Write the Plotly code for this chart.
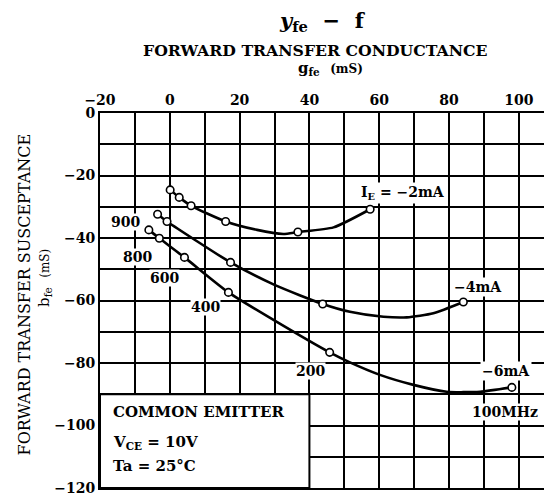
import plotly.graph_objects as go

# ---- data (gfe, bfe in mS) ----
# marker points (frequencies from 900 MHz downwards)
ie2_g = [0.1, 2.7, 6.1, 16.0, 36.7, 57.4]
ie2_b = [-24.6, -27.0, -29.7, -34.7, -38.1, -30.8]
ie4_g = [-3.5, -0.8, 17.4, 43.8, 84.1]
ie4_b = [-32.4, -34.7, -47.8, -61.1, -60.5]
ie6_g = [-6.0, -3.0, 4.2, 16.8, 45.8, 98.0]
ie6_b = [-37.4, -40.1, -46.2, -57.4, -76.6, -87.8]

# curve traces
c2_g = [0.1, 2.7, 6.1, 16.0, 25.0, 32.5, 36.7, 46.9, 57.4]
c2_b = [-24.6, -27.0, -29.7, -34.7, -37.4, -38.7, -38.1, -36.6, -30.8]
c4_g = [-3.5, -0.8, 17.4, 30.0, 43.8, 51.6, 61.2, 67.9, 75.5, 84.1]
c4_b = [-32.4, -34.7, -47.8, -55.0, -61.1, -63.6, -65.2, -65.4, -64.1, -60.5]
c6_g = [-6.0, -3.0, 4.2, 16.8, 29.7, 45.8, 51.6, 60.2, 69.8, 79.3, 88.9, 98.0]
c6_b = [-37.4, -40.1, -46.2, -57.4, -66.2, -76.6, -79.8, -83.8, -87.0, -89.2, -89.2, -87.8]

x_ticks = [-20, 0, 20, 40, 60, 80, 100]
x_labels = ["\u221220", "0", "20", "40", "60", "80", "100"]
y_ticks = [0, -20, -40, -60, -80, -100, -120]
y_labels = ["0", "\u221220", "\u221240", "\u221260", "\u221280", "\u2212100", "\u2212120"]

freq_labels = ["900", "800", "600", "400", "200", "100MHz"]
freq_pos_g = [-12.8, -9.3, -1.4, 10.1, 40.2, 96.0]
freq_pos_b = [-34.9, -46.0, -52.7, -62.0, -82.4, -95.8]

cur_labels = ["I<sub>E</sub> = \u22122mA", "\u22124mA", "\u22126mA"]
cur_pos_g = [66.8, 88.3, 96.3]
cur_pos_b = [-25.5, -55.6, -82.6]

FONT = "DejaVu Serif"

fig = go.Figure()
for cg, cb in [(c2_g, c2_b), (c4_g, c4_b), (c6_g, c6_b)]:
    fig.add_trace(go.Scatter(x=cg, y=cb, mode="lines",
                             line=dict(color="black", width=2.6, shape="spline", smoothing=0.6),
                             hoverinfo="skip", showlegend=False))
for mg, mb in [(ie2_g, ie2_b), (ie4_g, ie4_b), (ie6_g, ie6_b)]:
    fig.add_trace(go.Scatter(x=mg, y=mb, mode="markers",
                             marker=dict(symbol="circle", size=7.5, color="white",
                                         line=dict(color="black", width=1.6)),
                             showlegend=False))

# condition box
fig.add_shape(type="rect", x0=-20, x1=40, y0=-120, y1=-90, xref="x", yref="y",
              fillcolor="white", line=dict(color="black", width=2), layer="above")

box_lines = ["COMMON EMITTER", "V<sub>CE</sub> = 10V", "Ta = 25\u00b0C"]
box_y = [-95.8, -105.4, -113.0]
for t, yy in zip(box_lines, box_y):
    fig.add_annotation(x=-16.8, y=yy, xref="x", yref="y", text=t, showarrow=False,
                       xanchor="left", yanchor="middle",
                       font=dict(family=FONT, size=15, color="black", weight="bold"))

for t, gx, by in zip(freq_labels, freq_pos_g, freq_pos_b):
    fig.add_annotation(x=gx, y=by, xref="x", yref="y", text=t, showarrow=False,
                       xanchor="center", yanchor="middle",
                       bgcolor="white", borderpad=0,
                       font=dict(family=FONT, size=14, color="black", weight="bold"))
for t, gx, by in zip(cur_labels, cur_pos_g, cur_pos_b):
    fig.add_annotation(x=gx, y=by, xref="x", yref="y", text=t, showarrow=False,
                       xanchor="center", yanchor="middle",
                       bgcolor="white", borderpad=1,
                       font=dict(family=FONT, size=14, color="black", weight="bold"))

# titles
fig.add_annotation(x=0.493, y=1.243, xref="paper", yref="paper",
                   xanchor="center", yanchor="middle",
                   text="<b><i>y</i><sub>fe</sub>  \u2212  f</b>", showarrow=False,
                   font=dict(family=FONT, size=21, color="black"))
fig.add_annotation(x=0.476, y=1.168, xref="paper", yref="paper",
                   xanchor="center", yanchor="middle",
                   text="FORWARD TRANSFER CONDUCTANCE", showarrow=False,
                   font=dict(family=FONT, size=15.7, color="black", weight="bold"))
fig.add_annotation(x=0.509, y=1.118, xref="paper", yref="paper",
                   xanchor="center", yanchor="middle",
                   text="g<sub>fe</sub>  <span style='font-size:12px'>(mS)</span>", showarrow=False,
                   font=dict(family=FONT, size=15, color="black", weight="bold"))
fig.add_annotation(x=-0.166, y=0.516, xref="paper", yref="paper",
                   xanchor="center", yanchor="middle",
                   text="FORWARD TRANSFER SUSCEPTANCE", showarrow=False, textangle=-90,
                   font=dict(family=FONT, size=16, color="black"))
fig.add_annotation(x=-0.124, y=0.56, xref="paper", yref="paper",
                   xanchor="center", yanchor="middle",
                   text="b<sub>fe</sub>  <span style='font-size:12px'>(mS)</span>", showarrow=False,
                   textangle=-90,
                   font=dict(family=FONT, size=15, color="black"))

fig.update_xaxes(range=[-20, 109.5], side="top", tickmode="array", tickvals=x_ticks,
                 ticktext=x_labels, showgrid=True, gridcolor="black", gridwidth=1.5,
                 minor=dict(dtick=10, showgrid=True, gridcolor="black", gridwidth=1.5),
                 showline=True, linecolor="black", linewidth=2, mirror=True,
                 zeroline=False, ticks="", automargin=False,
                 tickfont=dict(family=FONT, size=14, color="black", weight="bold"))
fig.update_yaxes(range=[-120, 0], tickmode="array", tickvals=y_ticks, ticktext=y_labels,
                 showgrid=True, gridcolor="black", gridwidth=1.5,
                 minor=dict(dtick=10, showgrid=True, gridcolor="black", gridwidth=1.5),
                 showline=True, linecolor="black", linewidth=2, mirror=False,
                 zeroline=False, ticks="", automargin=False,
                 tickfont=dict(family=FONT, size=14, color="black", weight="bold"))

# the page body adds ~8px offset, so margins are reduced by 8px at left/top
fig.update_layout(width=544, height=494, margin=dict(l=92, r=0, t=105, b=14),
                  plot_bgcolor="white", paper_bgcolor="white", showlegend=False)

fig.write_html("out.html")
